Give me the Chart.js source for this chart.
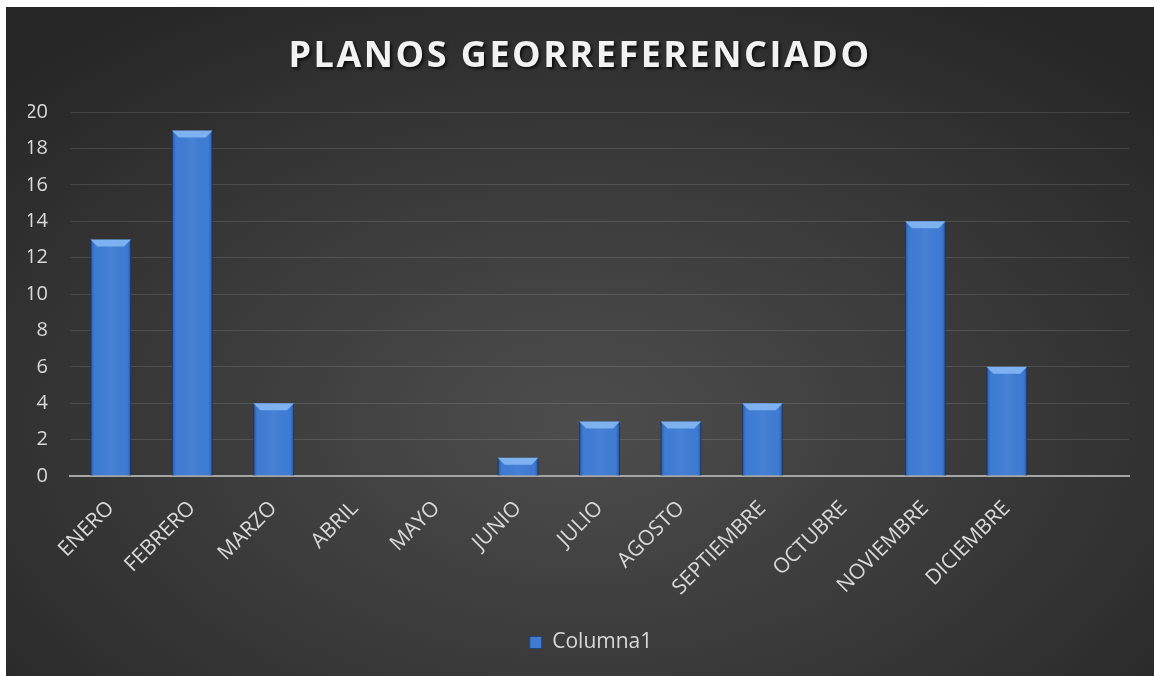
<!DOCTYPE html>
<html>
<head>
<meta charset="utf-8">
<script src="https://cdn.jsdelivr.net/npm/chart.js@4/dist/chart.umd.min.js"></script>
<style>
  html, body { margin: 0; padding: 0; background: #fff; }
  #wrap {
    position: absolute; left: 6px; top: 7px; width: 1148px; height: 669px;
    background: radial-gradient(ellipse 70% 75% at 50% 62%, #4d4d4d 0%, #3c3c3c 45%, #262626 100%);
  }
</style>
</head>
<body>
<div id="wrap"><canvas id="chart" width="1148" height="669"></canvas></div>
<script>
const months = ['ENERO', 'FEBRERO', 'MARZO', 'ABRIL', 'MAYO', 'JUNIO', 'JULIO',
  'AGOSTO', 'SEPTIEMBRE', 'OCTUBRE', 'NOVIEMBRE', 'DICIEMBRE', ''];
const columna1 = [13, 19, 4, 0, 0, 1, 3, 3, 4, 0, 14, 6, null];
const yTicks = [0, 2, 4, 6, 8, 10, 12, 14, 16, 18, 20];
const chartTitle = 'PLANOS GEORREFERENCIADO';

const FONT = '"Open Sans", "DejaVu Sans", sans-serif';

// bevel + side shading for the bars, drawn over each bar element
const bevelBars = {
  id: 'bevelBars',
  afterDatasetsDraw(chart) {
    const ctx = chart.ctx;
    chart.getDatasetMeta(0).data.forEach((bar, i) => {
      if (!columna1[i]) return;
      const left = bar.x - bar.width / 2, right = bar.x + bar.width / 2;
      const top = bar.y, bottom = bar.base;
      ctx.save();
      const g = ctx.createLinearGradient(left, 0, right, 0);
      g.addColorStop(0, 'rgba(15,40,90,0.6)');
      g.addColorStop(0.12, 'rgba(60,120,210,0)');
      g.addColorStop(0.5, 'rgba(120,170,240,0.15)');
      g.addColorStop(0.88, 'rgba(60,120,210,0)');
      g.addColorStop(1, 'rgba(15,40,90,0.6)');
      ctx.fillStyle = g;
      ctx.fillRect(left, top, right - left, bottom - top);
      const b = Math.min(7, (bottom - top) / 2);
      ctx.beginPath();
      ctx.moveTo(left, top);
      ctx.lineTo(right, top);
      ctx.lineTo(right - b, top + b);
      ctx.lineTo(left + b, top + b);
      ctx.closePath();
      ctx.fillStyle = '#7db1f0';
      ctx.fill();
      ctx.restore();
    });
  }
};

// title text with letter spacing and shadow, placed in the title box
const titleText = {
  id: 'titleText',
  afterDraw(chart) {
    const box = chart.titleBlock;
    if (!box) return;
    const ctx = chart.ctx;
    ctx.save();
    ctx.font = 'bold 36px ' + FONT;
    ctx.letterSpacing = '2.5px';
    ctx.fillStyle = '#f2f2f2';
    ctx.textAlign = 'center';
    ctx.textBaseline = 'middle';
    ctx.shadowColor = 'rgba(0,0,0,0.7)';
    ctx.shadowOffsetX = 2;
    ctx.shadowOffsetY = 2;
    ctx.shadowBlur = 3;
    ctx.fillText(chartTitle, chart.width / 2, (box.top + box.bottom) / 2 - 3);
    ctx.restore();
  }
};

new Chart(document.getElementById('chart'), {
  type: 'bar',
  data: {
    labels: months,
    datasets: [{
      label: 'Columna1',
      data: columna1,
      backgroundColor: '#3f7bd2',
      borderColor: '#22477f',
      borderWidth: 1,
      categoryPercentage: 1,
      barPercentage: 0.5
    }]
  },
  options: {
    responsive: false,
    animation: false,
    layout: { padding: { left: 22, right: 0, top: 0, bottom: 13 } },
    plugins: {
      title: {
        display: true,
        text: chartTitle,
        color: 'rgba(0,0,0,0)',
        font: { family: FONT, size: 36, weight: 'bold' },
        padding: { top: 28, bottom: 34 }
      },
      legend: {
        position: 'bottom',
        labels: {
          color: '#d9d9d9',
          font: { family: FONT, size: 21 },
          boxWidth: 12,
          boxHeight: 12,
          padding: 10
        }
      },
      tooltip: { enabled: false }
    },
    scales: {
      x: {
        grid: { display: false },
        border: { display: true, color: '#a6a6a6', width: 2 },
        ticks: {
          color: '#d9d9d9',
          font: { family: FONT, size: 21 },
          minRotation: 45,
          maxRotation: 45,
          autoSkip: false,
          padding: 12
        },
        afterFit(scale) { scale.height = 146; }
      },
      y: {
        min: 0,
        max: 20,
        afterBuildTicks(scale) { scale.ticks = yTicks.map(v => ({ value: v })); },
        grid: { color: 'rgba(255,255,255,0.12)', drawTicks: false },
        border: { display: false },
        ticks: {
          color: '#d9d9d9',
          font: { family: FONT, size: 20 },
          padding: 22
        },
        afterFit(scale) { scale.width = 42; }
      },
      // empty right margin of the plot
      yRight: {
        type: 'linear',
        position: 'right',
        min: 0,
        max: 20,
        grid: { display: false },
        border: { display: false },
        ticks: { display: false },
        afterFit(scale) { scale.width = 25; }
      }
    }
  },
  plugins: [bevelBars, titleText]
});
</script>
</body>
</html>
